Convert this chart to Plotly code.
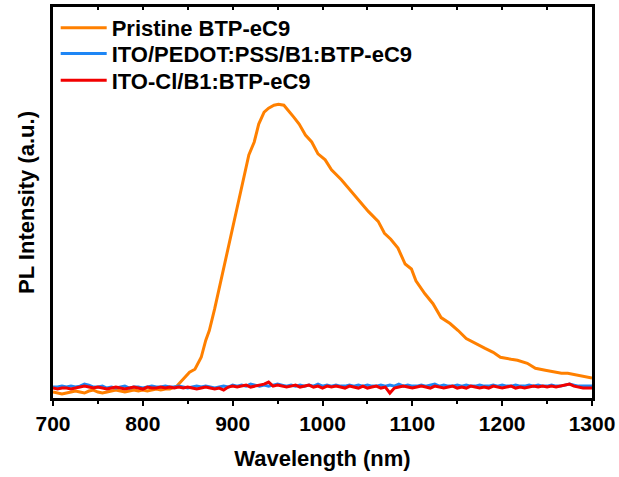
import plotly.graph_objects as go

# ---- data ----
wl_base = list(range(700, 1301, 5))

blue_vals = [11, 11, 12, 11, 12, 11, 12, 14, 13, 11, 11, 12, 10,
             11, 10, 11, 12, 10, 11, 11, 10, 11, 12, 11, 11, 12, 11,
             11, 12, 11, 10, 11, 12, 11, 12, 11, 10, 11, 12, 11, 13,
             12, 13, 12, 14, 13, 12, 13, 12, 13, 14, 13, 12, 13, 12,
             13, 12, 13, 12, 14, 12, 13, 12, 13, 12, 12, 13, 12, 13,
             12, 13, 12, 12, 13, 12, 13, 12, 14, 12, 13, 12, 12, 13,
             12, 13, 14, 12, 13, 12, 12, 13, 12, 13, 12, 12, 13, 12,
             12, 13, 12, 13, 12, 12, 13, 12, 12, 13, 12, 13, 12, 12,
             13, 12, 12, 13, 14, 13, 12, 12, 12, 12]

red_vals = [10, 9, 10, 10, 9, 10, 11, 12, 11, 10, 11, 10, 9,
            10, 11, 10, 9, 10, 11, 10, 9, 11, 10, 10, 11, 10, 11,
            10, 11, 10, 11, 10, 9, 10, 11, 10, 9, 10, 8, 11, 12,
            11, 12, 13, 11, 12, 13, 14, 16, 12, 13, 12, 11, 12, 13,
            11, 12, 13, 11, 12, 10, 12, 11, 12, 11, 10, 12, 11, 10,
            12, 10, 11, 12, 10, 11, 5, 10, 11, 12, 11, 10, 11, 12,
            11, 10, 12, 11, 10, 11, 12, 10, 11, 10, 12, 11, 10, 11,
            10, 12, 11, 10, 11, 12, 10, 11, 10, 11, 12, 11, 12, 11,
            12, 11, 12, 13, 14, 12, 11, 10, 10, 10]

orange_wl = list(range(700, 831, 5)) + [
    838, 841, 846, 852, 858, 865, 870, 874, 880, 886, 892, 898, 904, 911,
    918, 924, 929, 935, 940, 946, 951, 957, 962, 968, 974, 981, 988, 995,
    1003, 1010, 1021, 1032, 1040, 1051, 1062, 1069, 1076, 1084, 1092, 1099,
    1104, 1114, 1123, 1132, 1142, 1151, 1160, 1170, 1181, 1190, 1198, 1210,
    1217, 1228, 1237, 1248, 1259, 1266, 1273, 1283, 1293, 1300]
orange_vals = [6, 5, 4, 5, 6, 7, 6, 5, 7, 8, 6, 5, 6, 7, 8, 7, 6, 7, 8, 7,
               8, 7, 8, 9, 8, 9, 9,
               12, 15, 20, 26, 29, 41, 58, 68, 90, 115, 140, 165, 188, 218,
               245, 258, 276, 288, 292, 295, 296, 295, 290, 283, 276, 265,
               258, 246, 240, 230, 220, 208, 200, 188, 178, 166, 160, 151,
               135, 130, 118, 105, 95, 81, 75, 68, 60, 55, 50, 46, 41, 39,
               38, 35, 30, 28, 26, 25, 25, 23, 21, 20]

series_names = ["Pristine BTP-eC9", "ITO/PEDOT:PSS/B1:BTP-eC9", "ITO-Cl/B1:BTP-eC9"]
colors = ["#FF8000", "#1E86F5", "#F20000"]

x_ticks = [700, 800, 900, 1000, 1100, 1200, 1300]

FONT = "Liberation Sans, Arial, sans-serif"

fig = go.Figure()
fig.add_trace(go.Scatter(x=orange_wl, y=orange_vals, mode="lines", name=series_names[0],
                         line=dict(color=colors[0], width=3), legend="legend"))
fig.add_trace(go.Scatter(x=wl_base, y=blue_vals, mode="lines", name=series_names[1],
                         line=dict(color=colors[1], width=3), legend="legend2"))
fig.add_trace(go.Scatter(x=wl_base, y=red_vals, mode="lines", name=series_names[2],
                         line=dict(color=colors[2], width=3), legend="legend3"))
# invisible trace to activate the top axis with inward ticks
fig.add_trace(go.Scatter(x=[700, 1300], y=[0, 0], xaxis="x2", mode="lines",
                         line=dict(width=0), showlegend=False, hoverinfo="skip"))

legend_font = dict(size=22, family=FONT, color="black", weight="bold")


def leg(yc):
    return dict(x=0.005, y=yc, xanchor="left", yanchor="middle",
                bgcolor="rgba(0,0,0,0)", font=legend_font, itemwidth=46,
                borderwidth=0)


fig.update_layout(
    width=619, height=477,
    margin=dict(l=53, r=24, t=4, b=79),
    paper_bgcolor="white", plot_bgcolor="white",
    font=dict(family=FONT, color="black"),
    showlegend=True,
    legend=leg(0.9467),
    legend2=leg(0.8807),
    legend3=leg(0.8122),
    xaxis=dict(range=[700, 1300], tickvals=x_ticks,
               ticktext=[str(v) for v in x_ticks],
               ticks="outside", ticklen=5, tickwidth=2, tickcolor="black",
               minor=dict(dtick=50, tick0=700, ticks="outside", ticklen=3, tickwidth=2, tickcolor="black"),
               showline=True, linewidth=2.5, linecolor="black", mirror=True,
               showgrid=False, zeroline=False,
               tickfont=dict(size=21, family=FONT, color="black", weight="bold"),
               title=dict(text="Wavelength (nm)",
                          font=dict(size=22, family=FONT, color="black", weight="bold"), standoff=17)),
    xaxis2=dict(range=[700, 1300], overlaying="x", side="top", dtick=50, tick0=700,
                ticks="inside", ticklen=3, tickwidth=2, tickcolor="black",
                showticklabels=False, showgrid=False, zeroline=False, showline=False),
    yaxis=dict(range=[0, 394], showticklabels=False, ticks="",
               showline=True, linewidth=2.5, linecolor="black", mirror=True,
               showgrid=False, zeroline=False,
               title=dict(text="PL Intensity (a.u.)",
                          font=dict(size=22, family=FONT, color="black", weight="bold"), standoff=10)),
)

fig.write_html("out.html")
